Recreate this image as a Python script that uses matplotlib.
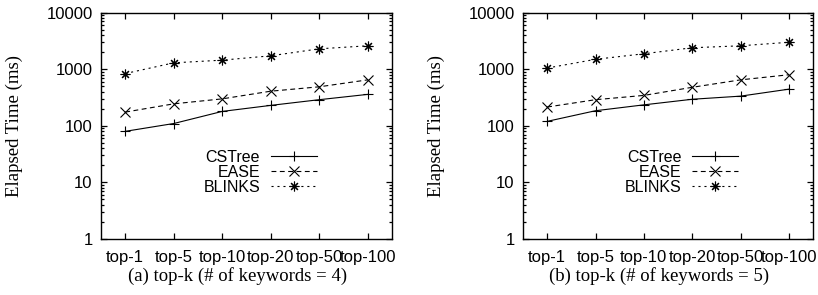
import matplotlib
matplotlib.use("Agg")
from matplotlib import pyplot as plt
from matplotlib.ticker import LogLocator, NullFormatter

categories = ["top-1", "top-5", "top-10", "top-20", "top-50", "top-100"]
series_names = ["CSTree", "EASE", "BLINKS"]

# (a) # of keywords = 4
cstree_a = [80, 110, 180, 230, 290, 360]
ease_a = [175, 245, 300, 410, 490, 650]
blinks_a = [840, 1300, 1450, 1730, 2300, 2600]

# (b) # of keywords = 5
cstree_b = [120, 185, 235, 295, 335, 445]
ease_b = [215, 290, 345, 480, 650, 800]
blinks_b = [1050, 1500, 1880, 2400, 2600, 3000]

captions = ["(a) top-k (# of keywords = 4)", "(b) top-k (# of keywords = 5)"]
yticks = [1, 10, 100, 1000, 10000]
ytick_labels = ["1", "10", "100", "1000", "10000"]

plt.rcParams["font.family"] = "Liberation Sans"
plt.rcParams["lines.scale_dashes"] = False

styles = [
    dict(linestyle="-", marker="+"),
    dict(linestyle=(0, (3.5, 2.5)), marker="x"),
    dict(linestyle=(0, (1.5, 2.8)), marker=(8, 2, 0)),
]

fig = plt.figure(figsize=(8.18, 2.95), dpi=100)
ax_a = fig.add_axes([101 / 818, 56 / 295, 291 / 818, 226.3 / 295])
ax_b = fig.add_axes([523 / 818, 56 / 295, 290 / 818, 226.3 / 295])

panels = [
    (ax_a, [cstree_a, ease_a, blinks_a], captions[0]),
    (ax_b, [cstree_b, ease_b, blinks_b], captions[1]),
]

x = range(len(categories))
for ax, data, caption in panels:
    for name, values, st in zip(series_names, data, styles):
        ax.plot(x, values, color="black", linewidth=0.8,
                markersize=7, markeredgewidth=0.8, label=name, **st)

    ax.set_yscale("log")
    ax.set_ylim(1, 10000)
    ax.set_xlim(-0.5, 5.5)
    ax.set_yticks(yticks, ytick_labels)
    ax.yaxis.set_minor_locator(LogLocator(base=10, subs=range(2, 10)))
    ax.yaxis.set_minor_formatter(NullFormatter())
    ax.set_xticks(list(x), categories)

    ax.tick_params(which="both", direction="in", top=True, right=True,
                   labelsize=12, width=0.9)
    ax.tick_params(which="major", length=4.5)
    ax.tick_params(which="minor", length=2.2)
    ax.tick_params(axis="x", pad=8)
    ax.tick_params(axis="y", pad=6)
    for sp in ax.spines.values():
        sp.set_linewidth(1.0)

    ax.set_ylabel("Elapsed Time (ms)", family="Liberation Serif", fontsize=13.5)
    ax.yaxis.set_label_coords(-0.268, 0.5)
    ax.set_xlabel(caption, family="Liberation Serif", fontsize=13.5)
    ax.xaxis.set_label_coords(0.47, -0.125)

    ax.legend(loc="center right", bbox_to_anchor=(0.742, 0.296),
              frameon=False, fontsize=11.5, markerfirst=False, numpoints=1,
              handlelength=2.9, handletextpad=0.65, labelspacing=0.0,
              borderaxespad=0, borderpad=0)

fig.savefig("out.png", dpi=100)
